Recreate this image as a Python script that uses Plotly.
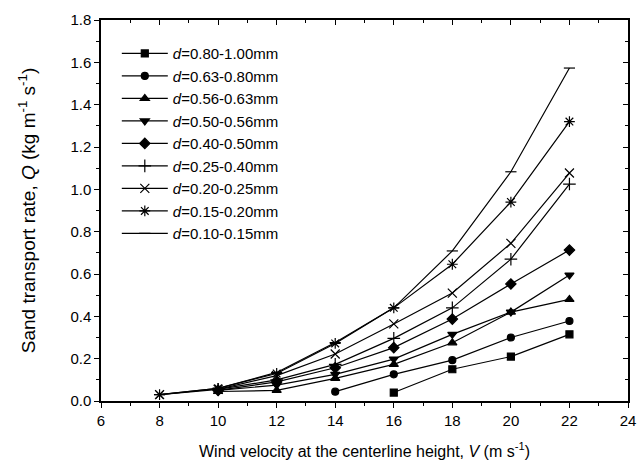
import plotly.graph_objects as go

labels = ["0.80-1.00", "0.63-0.80", "0.56-0.63", "0.50-0.56", "0.40-0.50",
          "0.25-0.40", "0.20-0.25", "0.15-0.20", "0.10-0.15"]
symbols = ["square", "circle", "triangle-up", "triangle-down", "diamond",
           "cross-thin-open", "x-thin-open", "asterisk-open", "line-ew-open"]
sizes = [7, 7, 8, 8, 8, 9, 9, 9, 8]

x_d080 = [16, 18, 20, 22]
y_d080 = [0.04, 0.15, 0.21, 0.315]
x_d063 = [14, 16, 18, 20, 22]
y_d063 = [0.044, 0.126, 0.193, 0.30, 0.378]
x_d056 = [10, 12, 14, 16, 18, 20, 22]
y_d056 = [0.045, 0.05, 0.107, 0.173, 0.275, 0.42, 0.48]
x_d050 = [10, 12, 14, 16, 18, 20, 22]
y_d050 = [0.05, 0.075, 0.126, 0.198, 0.315, 0.42, 0.595]
x_d040 = [10, 12, 14, 16, 18, 20, 22]
y_d040 = [0.05, 0.09, 0.157, 0.252, 0.387, 0.553, 0.713]
x_d025 = [10, 12, 14, 16, 18, 20, 22]
y_d025 = [0.055, 0.10, 0.173, 0.296, 0.44, 0.67, 1.025]
x_d020 = [8, 10, 12, 14, 16, 18, 20, 22]
y_d020 = [0.03, 0.055, 0.12, 0.222, 0.364, 0.51, 0.745, 1.077]
x_d015 = [8, 10, 12, 14, 16, 18, 20, 22]
y_d015 = [0.03, 0.06, 0.13, 0.272, 0.44, 0.646, 0.94, 1.32]
x_d010 = [8, 10, 12, 14, 16, 18, 20, 22]
y_d010 = [0.03, 0.06, 0.135, 0.276, 0.44, 0.709, 1.083, 1.573]

xs = [x_d080, x_d063, x_d056, x_d050, x_d040, x_d025, x_d020, x_d015, x_d010]
ys = [y_d080, y_d063, y_d056, y_d050, y_d040, y_d025, y_d020, y_d015, y_d010]

FONT = "Liberation Sans, Arial, sans-serif"
fig = go.Figure()
for i, (lab, sym, sz, xv, yv) in enumerate(zip(labels, symbols, sizes, xs, ys)):
    fig.add_trace(go.Scatter(
        x=xv, y=yv, mode="lines+markers", name=f"<i>d</i>={lab}mm",
        line=dict(color="black", width=1.2),
        marker=dict(symbol=sym, size=sz, color="black",
                    line=dict(color="black", width=1.2)),
    ))

# mirrored axes with inward ticks (top and right)
fig.add_trace(go.Scatter(x=[], y=[], xaxis="x2", yaxis="y2", showlegend=False))

axis_common = dict(showline=True, linecolor="black", linewidth=1.5,
                   showgrid=False, zeroline=False, ticklen=5, tickwidth=1.4,
                   tickcolor="black", automargin=False,
                   tickfont=dict(family=FONT, size=15, color="black"))

fig.update_layout(
    width=638, height=466,
    margin=dict(l=101, r=10, t=20, b=65),
    paper_bgcolor="white", plot_bgcolor="white",
    font=dict(family=FONT, size=15, color="black"),
    xaxis=dict(range=[6, 24], dtick=2, ticks="outside",
               minor=dict(dtick=1, ticks="outside", ticklen=3, tickwidth=1.2, tickcolor="black"),
               title=dict(text="Wind velocity at the centerline height, <i>V</i> (m s<sup>-1</sup>)",
                          font=dict(family=FONT, size=16), standoff=18),
               **axis_common),
    yaxis=dict(range=[0, 1.8], dtick=0.2, tickformat=".1f", ticks="outside",
               minor=dict(dtick=0.1, ticks="outside", ticklen=3, tickwidth=1.2, tickcolor="black"),
               title=dict(text="Sand transport rate, <i>Q</i> (kg m<sup>-1</sup> s<sup>-1</sup>)",
                          font=dict(family=FONT, size=19), standoff=30),
               **axis_common),
    xaxis2=dict(range=[6, 24], dtick=2, overlaying="x", side="top", ticks="inside",
                showticklabels=False,
                minor=dict(dtick=1, ticks="inside", ticklen=3, tickwidth=1.2, tickcolor="black"),
                **axis_common),
    yaxis2=dict(range=[0, 1.8], dtick=0.2, overlaying="y", side="right", ticks="inside",
                showticklabels=False,
                minor=dict(dtick=0.1, ticks="inside", ticklen=3, tickwidth=1.2, tickcolor="black"),
                **axis_common),
    legend=dict(x=0.03, y=0.955, xanchor="left", yanchor="top",
                bgcolor="rgba(0,0,0,0)", borderwidth=0,
                font=dict(family=FONT, size=15, color="black"),
                itemwidth=46, traceorder="normal"),
)

fig.write_html("out.html")
